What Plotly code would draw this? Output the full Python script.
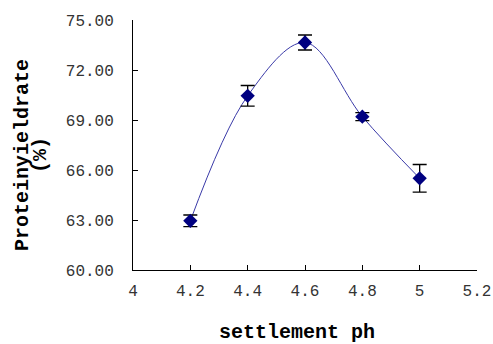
import plotly.graph_objects as go

ph = [4.2, 4.4, 4.6, 4.8, 5.0]
yield_rate = [62.95, 70.45, 73.65, 69.2, 65.5]
err = [0.35, 0.62, 0.45, 0.24, 0.83]

x_ticks = [4, 4.2, 4.4, 4.6, 4.8, 5, 5.2]
x_labels = ["4", "4.2", "4.4", "4.6", "4.8", "5", "5.2"]
y_ticks = [60, 63, 66, 69, 72, 75]

tick_font = dict(family="Liberation Mono", size=16, color="#333")
title_font = dict(family="Liberation Mono", size=20, color="#000")

fig = go.Figure()
fig.add_trace(go.Scatter(
    x=ph, y=yield_rate, mode="lines",
    line=dict(color="#3a3aa8", width=1, shape="spline", smoothing=1.0),
    showlegend=False, hoverinfo="skip"))
fig.add_trace(go.Scatter(
    x=ph, y=yield_rate, mode="markers",
    marker=dict(symbol="diamond", size=11, color="#000080"),
    error_y=dict(type="data", array=err, color="#000", thickness=1.3, width=7),
    showlegend=False))

fig.update_layout(
    width=493, height=344,
    margin=dict(l=133, r=16, t=20, b=74),
    plot_bgcolor="white", paper_bgcolor="white",
    xaxis=dict(range=[4, 5.2], tickvals=x_ticks, ticktext=x_labels,
               showgrid=False, zeroline=False, showline=True, automargin=False,
               linecolor="#000", linewidth=1, ticks="inside", ticklen=5,
               tickcolor="#000", tickfont=tick_font, ticklabelstandoff=6),
    yaxis=dict(range=[60, 75], tickvals=y_ticks, tickformat=".2f",
               showgrid=False, zeroline=False, showline=True, automargin=False,
               linecolor="#000", linewidth=1, ticks="inside", ticklen=5,
               tickcolor="#000", tickfont=tick_font, ticklabelstandoff=15),
    annotations=[
        dict(text="<b>settlement ph</b>", font=title_font, showarrow=False,
             xref="paper", yref="paper", x=0.5, y=0, xanchor="center",
             yanchor="middle", xshift=-8, yshift=-62),
        dict(text="<b>Proteinyieldrate</b>", font=title_font, showarrow=False,
             xref="paper", yref="paper", x=0, y=0.5, xanchor="center",
             yanchor="middle", xshift=-111, yshift=-10, textangle=-90),
        dict(text="<b>(%)</b>", font=title_font, showarrow=False,
             xref="paper", yref="paper", x=0, y=0.5, xanchor="center",
             yanchor="middle", xshift=-93, yshift=-10, textangle=-90),
    ],
)
fig.write_html("out.html", config={"displayModeBar": False},
               post_script="document.body.style.margin='0';document.body.style.overflow='hidden';")
